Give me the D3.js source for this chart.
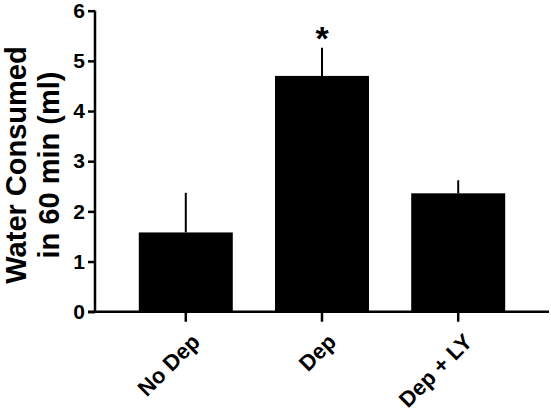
<!DOCTYPE html><html><head><script src="https://cdn.jsdelivr.net/npm/d3@7"></script>
<style>body{margin:0;background:#fff}text{font-family:"Liberation Sans",Arial,sans-serif;font-weight:bold}</style></head><body><svg id="c" width="551" height="412"></svg><script>
const categories=["No Dep","Dep","Dep + LY"];
const means=[1.58,4.70,2.36];
const errors=[0.79,0.56,0.26];
const yTicks=[0,1,2,3,4,5,6];
const stars=["","*",""];
const svg=d3.select("#c");
const y=d3.scaleLinear().domain([0,6]).range([311.7,10.7]);
const x=d3.scaleBand().domain(categories).range([117,527]).paddingInner(0.31).paddingOuter(0.16);
const g=svg.append("g");
g.selectAll(".bar").data(categories).join("rect").attr("x",d=>x(d)).attr("width",x.bandwidth())
 .attr("y",(d,i)=>y(means[i])).attr("height",(d,i)=>y(0)-y(means[i])).attr("fill","#000");
g.selectAll(".err").data(categories).join("line").attr("x1",d=>x(d)+x.bandwidth()/2).attr("x2",d=>x(d)+x.bandwidth()/2)
 .attr("y1",(d,i)=>y(means[i])).attr("y2",(d,i)=>y(means[i]+errors[i])).attr("stroke","#000").attr("stroke-width",2);
g.selectAll(".star").data(categories).join("text").attr("x",d=>x(d)+x.bandwidth()/2).attr("y",(d,i)=>y(means[i]+errors[i])+2)
 .attr("text-anchor","middle").attr("font-size",34).text((d,i)=>stars[i]);
const ya=svg.append("g").attr("transform","translate(95,0)").call(d3.axisLeft(y).tickValues(yTicks).tickSize(7).tickFormat(d3.format("d")));
ya.select(".domain").attr("stroke-width",2.5).attr("d","M0,"+y(6)+"V"+y(0));
ya.selectAll(".tick line").attr("stroke-width",2.5);
ya.selectAll(".tick text").attr("font-size",21).attr("x",-10).attr("fill","#000");
const xa=svg.append("g").attr("transform","translate(0,"+y(0)+")").call(d3.axisBottom(x).tickSize(10));
xa.select(".domain").attr("stroke-width",2.5).attr("d","M88,0H549");
xa.selectAll(".tick line").attr("stroke-width",2.5);
xa.selectAll(".tick text").attr("font-size",22).attr("fill","#000").attr("text-anchor","end")
 .attr("transform","translate(10,26) rotate(-45)").attr("dy","0.35em").attr("y",0).attr("x",0);
const t=svg.append("text").attr("transform","translate(0,165) rotate(-90)").attr("text-anchor","middle").attr("font-size",29).attr("fill","#000");
t.append("tspan").attr("x",0).attr("y",26).text("Water Consumed");
t.append("tspan").attr("x",0).attr("y",59).text("in 60 min (ml)");
</script></body></html>
